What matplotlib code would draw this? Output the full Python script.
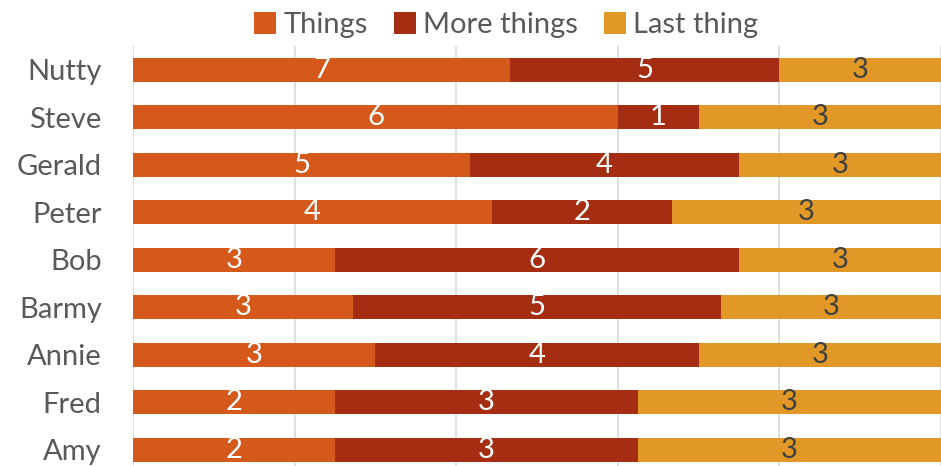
import numpy as np
import matplotlib.pyplot as plt

names = ['Nutty', 'Steve', 'Gerald', 'Peter', 'Bob', 'Barmy', 'Annie', 'Fred', 'Amy']
things = [7, 6, 5, 4, 3, 3, 3, 2, 2]
more_things = [5, 1, 4, 2, 6, 5, 4, 3, 3]
last_thing = [3, 3, 3, 3, 3, 3, 3, 3, 3]
series = ['Things', 'More things', 'Last thing']

colors = ['#D5591A', '#A52E12', '#E19826']
text_colors = ['white', 'white', '#404040']

plt.rcParams['font.family'] = ['Lato', 'DejaVu Sans']

data = np.array([things, more_things, last_thing], dtype=float)
share = data / data.sum(axis=0)
y = np.arange(len(names))

fig = plt.figure(figsize=(9.41, 4.66), dpi=100)
ax = fig.add_axes([133 / 941, -0.016, 808 / 941, 0.917])

left = np.zeros(len(names))
for k in range(3):
    ax.barh(y, share[k], left=left, height=0.5, color=colors[k],
            label=series[k], zorder=2)
    for i in range(len(names)):
        ax.text(left[i] + share[k][i] / 2, y[i], str(int(data[k][i])),
                ha='center', va='center', fontsize=21, color=text_colors[k],
                zorder=3)
    left = left + share[k]

ax.set_xlim(0, 1)
ax.set_ylim(len(names) - 0.5, -0.5)
ax.set_xticks(np.arange(0, 1.01, 0.2))
ax.xaxis.grid(True, color='#D9D9D9', linewidth=1.2, zorder=0)
ax.tick_params(axis='x', bottom=False, labelbottom=False)
ax.tick_params(axis='y', left=False, labelsize=21, labelcolor='#595959', pad=19)
ax.set_yticks(y)
ax.set_yticklabels(names)
for s in ax.spines.values():
    s.set_visible(False)

fig.legend(loc='upper center', bbox_to_anchor=(0.538, 1.03), ncol=3,
           frameon=False, fontsize=21, labelcolor='#595959',
           handlelength=0.75, handleheight=0.75, handletextpad=0.25,
           columnspacing=0.9)

fig.savefig('out.png', dpi=100)
